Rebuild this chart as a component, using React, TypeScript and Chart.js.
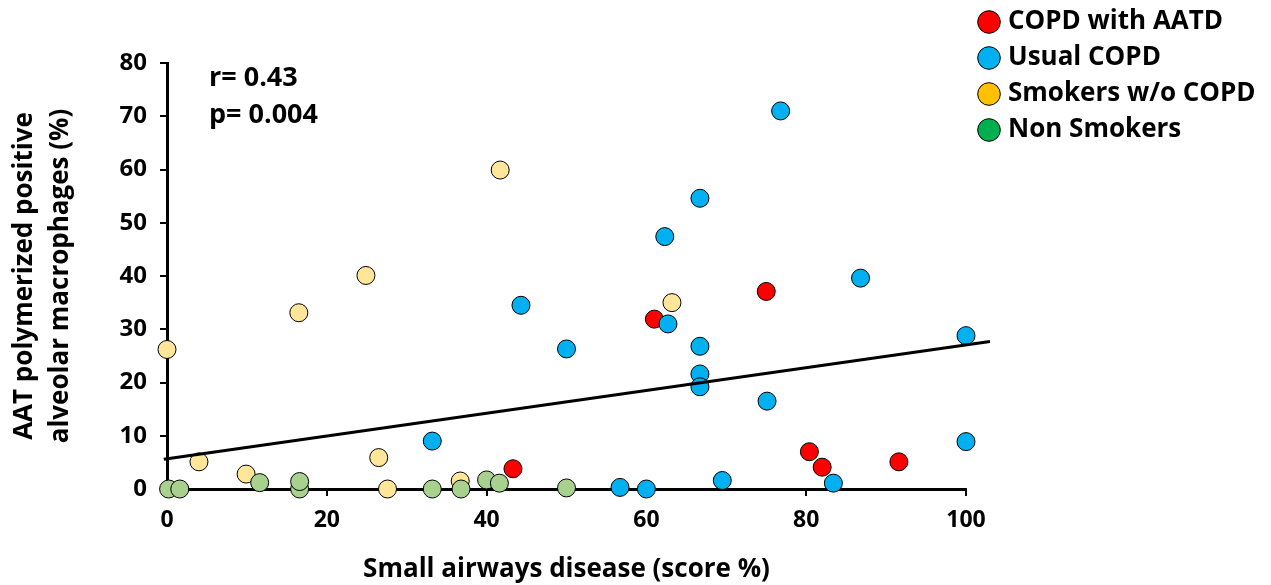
import React, { useEffect, useRef } from 'react';
import { Chart, registerables } from 'chart.js';

Chart.register(...registerables);

const seriesNames = ['COPD with AATD', 'Usual COPD', 'Smokers w/o COPD', 'Non Smokers'];

const aatdX = [43.3, 61.0, 75.0, 80.4, 82.0, 91.6];
const aatdY = [3.8, 31.9, 37.1, 7.0, 4.1, 5.1];

const copdX = [33.2, 44.3, 50.0, 56.7, 60.0, 62.3, 62.7, 66.7, 66.7, 66.7, 66.7, 69.5, 75.1, 76.8, 83.4, 86.8, 100, 100];
const copdY = [9.0, 34.5, 26.3, 0.3, 0.0, 47.4, 31.0, 54.6, 26.8, 21.6, 19.2, 1.6, 16.5, 71.0, 1.1, 39.6, 28.8, 8.9];

const smokerX = [0, 4.0, 9.9, 16.5, 24.9, 26.5, 27.6, 36.7, 41.7, 63.2];
const smokerY = [26.2, 5.1, 2.8, 33.1, 40.1, 5.9, 0.0, 1.5, 59.9, 35.0];

const nonSmokerX = [0.2, 1.6, 11.6, 16.6, 16.6, 33.2, 36.8, 40.0, 41.6, 50.0];
const nonSmokerY = [0.0, 0.0, 1.2, 0.0, 1.4, 0.0, 0.0, 1.7, 1.1, 0.2];

const trendX = [-0.4, 103];
const trendY = [5.6, 27.7];

const pointColors = ['#FF0000', '#00B0F0', '#FFE699', '#A9D18E'];
const legendColors = ['#FF0000', '#00B0F0', '#FFC000', '#00B050'];

const xTitle = 'Small airways disease (score %)';
const yTitle = ['AAT polymerized positive', 'alveolar macrophages (%)'];
const statsLines = ['r= 0.43', 'p= 0.004'];

const FONT = '"Open Sans", Lato, sans-serif';

const zip = (xs: number[], ys: number[]) => xs.map((x, i) => ({ x, y: ys[i] }));

const legendPos = {
  id: 'legendPos',
  afterLayout(chart: any) {
    const l = chart.legend;
    if (!l) return;
    l.left = 973;
    l.top = -1;
    l.right = 1271;
    l.bottom = 220;
    l.width = l.right - l.left;
    l.height = l.bottom - l.top;
  },
};

const statsText = {
  id: 'statsText',
  afterDraw(chart: any) {
    const ctx = chart.ctx;
    ctx.save();
    ctx.font = `bold 27px ${FONT}`;
    ctx.fillStyle = '#000';
    ctx.textAlign = 'left';
    ctx.textBaseline = 'middle';
    ctx.fillText(statsLines[0], 209, 78);
    ctx.fillText(statsLines[1], 209, 115);
    ctx.restore();
  },
};

export default function App() {
  const ref = useRef<HTMLCanvasElement>(null);

  useEffect(() => {
    if (!ref.current) return;
    const pointDs = (i: number, xs: number[], ys: number[], order: number) => ({
      type: 'scatter' as const,
      label: seriesNames[i],
      data: zip(xs, ys),
      backgroundColor: pointColors[i],
      borderColor: '#000',
      borderWidth: 1,
      pointRadius: 9,
      pointHoverRadius: 9,
      clip: false as any,
      order,
    });
    const chart = new Chart(ref.current, {
      type: 'scatter',
      data: {
        datasets: [
          {
            type: 'line',
            label: 'trend',
            data: zip(trendX, trendY),
            borderColor: '#000',
            borderWidth: 3,
            pointRadius: 0,
            fill: false,
            clip: false,
            order: 0,
          } as any,
          pointDs(0, aatdX, aatdY, 4),
          pointDs(1, copdX, copdY, 3),
          pointDs(2, smokerX, smokerY, 2),
          pointDs(3, nonSmokerX, nonSmokerY, 1),
        ],
      },
      options: {
        responsive: false,
        animation: false,
        layout: { padding: { top: 63, right: 305, left: 0, bottom: 0 } },
        plugins: {
          tooltip: { enabled: false },
          legend: {
            display: true,
            position: 'chartArea' as any,
            align: 'start',
            labels: {
              usePointStyle: true,
              boxHeight: 16,
              boxWidth: 12,
              padding: 10,
              color: '#000',
              font: { family: FONT, size: 26, weight: 'bold' },
              generateLabels: () =>
                seriesNames.map((name, i) => ({
                  text: name,
                  fillStyle: legendColors[i],
                  strokeStyle: '#000',
                  lineWidth: 1,
                  pointStyle: 'circle',
                  hidden: false,
                  datasetIndex: i + 1,
                  fontColor: '#000',
                })),
            },
          },
        },
        scales: {
          x: {
            type: 'linear',
            min: 0,
            max: 100,
            afterFit: (s: any) => {
              s.height = 96;
            },
            border: { display: true, color: '#000', width: 3 },
            grid: { display: true, drawOnChartArea: false, drawTicks: true, tickLength: 7, color: '#000', lineWidth: 2 },
            ticks: {
              stepSize: 20,
              color: '#000',
              padding: 11,
              font: { family: FONT, size: 23, weight: 'bold' },
            },
            title: {
              display: true,
              text: xTitle,
              color: '#000',
              padding: { top: 0, bottom: 0 },
              font: { family: FONT, size: 26, weight: 'bold', lineHeight: 1.2 },
            },
          },
          y: {
            type: 'linear',
            min: 0,
            max: 80,
            afterFit: (s: any) => {
              s.width = 167;
            },
            border: { display: true, color: '#000', width: 3 },
            grid: { display: true, drawOnChartArea: false, drawTicks: true, tickLength: 7, color: '#000', lineWidth: 2 },
            ticks: {
              stepSize: 10,
              color: '#000',
              padding: 13,
              font: { family: FONT, size: 24, weight: 'bold' },
            },
            title: {
              display: true,
              text: yTitle,
              color: '#000',
              padding: { top: 6, bottom: 0 },
              font: { family: FONT, size: 26, weight: 'bold', lineHeight: 1.4 },
            },
          },
        },
      },
      plugins: [legendPos, statsText],
    });
    return () => chart.destroy();
  }, []);

  return (
    <div style={{ position: 'fixed', left: 0, top: 0, width: 1271, height: 585, background: '#fff' }}>
      <canvas ref={ref} width={1271} height={585} style={{ display: 'block' }} />
    </div>
  );
}
